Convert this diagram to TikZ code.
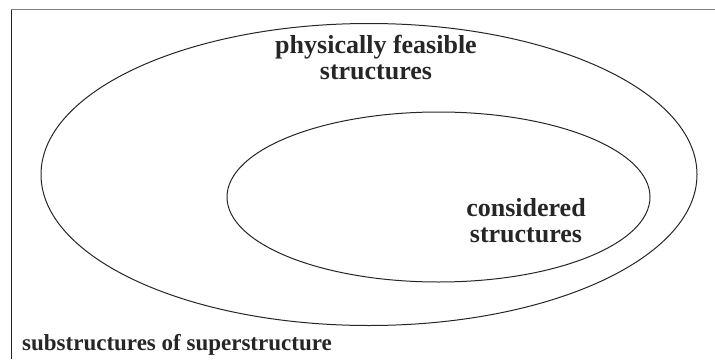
\documentclass[tikz,border=0pt]{standalone}
\usepackage{fontspec}
\setmainfont{Liberation Serif}
\usetikzlibrary{shapes.geometric}
\begin{document}
\begin{tikzpicture}[x=1pt,y=-1pt,
  setline/.style={line width=1pt,draw=black!85},
  lbl/.style={font=\fontsize{26}{26}\selectfont\bfseries,align=center,inner sep=0pt,text=black!85},
  lblsmall/.style={font=\fontsize{23}{25}\selectfont\bfseries,inner sep=0pt,text=black!85}]
  \useasboundingbox (0,0) rectangle (715,359);
  % frame of the universe of substructures
  \coordinate (tl) at (11,9.5);
  \coordinate (tr) at (715,9.5);
  \coordinate (bl) at (11,359);
  \draw[line width=1.3pt,draw=black!50] (tl) -- (tr);
  \draw[line width=1pt,draw=black!85] (tl) -- (bl);
  % nested sets
  \node[setline,ellipse,draw,minimum width=656pt,minimum height=302pt,inner sep=0pt] (outer) at (369,174.5) {};
  \node[setline,ellipse,draw,minimum width=423pt,minimum height=170pt,inner sep=0pt] (inner) at (438.5,197) {};
  % labels (base anchor sits on the last line)
  \node[lbl,anchor=base] (feasible) at (376,79) {physically feasible\\structures};
  \node[lbl,anchor=base] (considered) at (526,242) {considered\\structures};
  \node[lblsmall,anchor=base west] (super) at (22,350) {substructures of superstructure};
\end{tikzpicture}
\end{document}
